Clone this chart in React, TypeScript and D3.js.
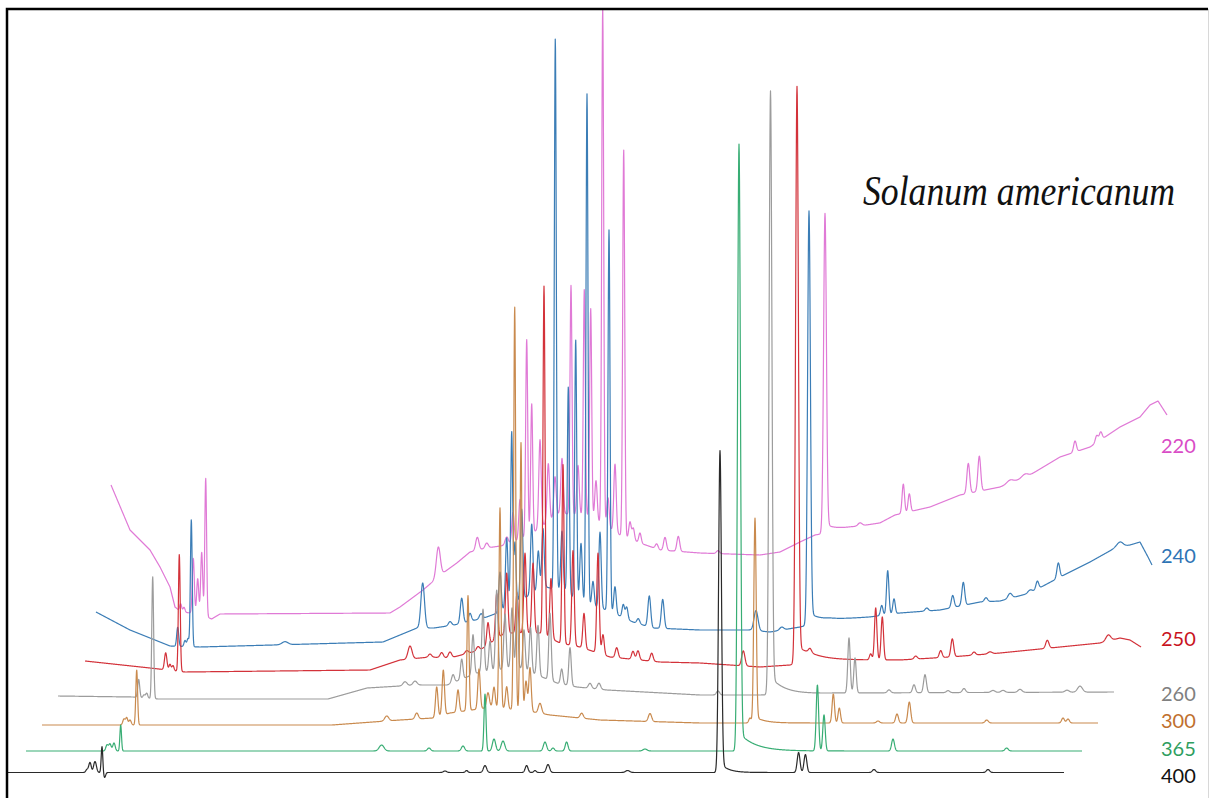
import React, { useMemo } from "react";
import * as d3 from "d3";

// ---------- DATA (retention time in min, intensity in mAU) ----------
const RUN_MIN = 52.8;
const wavelengths = ["220", "240", "250", "260", "300", "365", "400"];
const title = "Solanum americanum";

type P = [number, number, number, number?, number?]; // [t, height, sigma, tailAmp, tailTau]

const baseline220: [number, number][] = [
  [0, 132], [0.95, 87], [1.95, 67], [2.45, 50], [2.95, 30], [3.2, 10], [3.5, 5], [4.5, 3], [5.03, -2], [5.45, 3],
  [13.95, 4], [14.45, 10], [15.6, 27], [16.6, 44], [17.29, 54], [17.95, 65], [18.79, 69], [19.79, 72], [20.95, 82],
  [22.45, 104], [23.95, 100], [25.45, 82], [26.45, 74], [27.45, 67], [29.45, 64], [32.45, 62], [33.45, 65], [34.45, 75],
  [35.2, 82], [36.05, 85], [36.95, 89], [38.45, 94], [39.2, 102], [40.95, 110], [42.45, 122], [44.45, 130], [45.95, 142],
  [47.45, 160], [48.95, 170], [50.45, 190], [51.45, 200], [51.95, 212], [52.35, 216], [52.8, 202],
];
const peaks220: P[] = [
  [3.485, 8, 0.05], [3.65, 5, 0.05], [4.115, 55, 0.05], [4.335, 35, 0.05], [4.535, 62, 0.05], [4.735, 138, 0.045],
  [16.365, 30, 0.1], [18.315, 13, 0.08], [18.785, 5, 0.08], [19.785, 8, 0.08], [20.1, 30, 0.06], [20.45, 40, 0.06],
  [20.785, 197, 0.05], [21.035, 130, 0.05], [21.45, 88, 0.06], [21.865, 58, 0.06], [22.2, 40, 0.06], [22.55, 55, 0.06],
  [23.0, 229, 0.05], [23.35, 50, 0.06], [23.665, 227, 0.05], [23.985, 209, 0.05], [24.25, 40, 0.06], [24.585, 517, 0.05],
  [24.85, 30, 0.06], [25.2, 68, 0.06], [25.635, 387, 0.05], [25.95, 17, 0.06], [26.115, 12, 0.06], [26.45, 10, 0.06],
  [27.285, 5, 0.07], [27.7, 13, 0.07], [28.365, 15, 0.07], [30.35, 3, 0.08],
  [35.7, 320, 0.07, 0.03, 0.6], [37.45, 3, 0.1], [39.615, 29, 0.06], [39.915, 18, 0.06], [42.865, 30, 0.07],
  [43.415, 35, 0.07], [44.95, 3, 0.15], [45.7, 3, 0.15], [48.2, 11, 0.07], [49.285, 7, 0.07], [49.485, 8, 0.07],
];

const baseline240: [number, number][] = [
  [0, 35], [1.7, 17], [2.7, 9], [3.7, 1], [5.2, 0], [14.35, 5], [16.05, 19], [16.9, 19], [17.9, 22], [19.4, 29],
  [20.2, 35], [21, 45], [22.5, 60], [23.5, 55], [24.2, 44], [25.55, 37], [26.85, 25], [27.85, 19], [30.2, 17],
  [32.7, 17], [33.7, 15], [35.2, 20], [36.7, 27], [38.7, 30], [40.2, 34], [42.2, 37], [44.2, 45], [45.2, 46],
  [46.7, 54], [48.2, 70], [49.7, 85], [50.95, 99], [51.7, 102], [52.2, 105], [52.6, 90], [52.85, 80],
];
const peaks240: P[] = [
  [4.085, 19, 0.05], [4.45, 6, 0.05], [4.6, 8, 0.05], [4.765, 127, 0.045], [9.45, 3, 0.15],
  [16.335, 45, 0.09], [17.7, 4, 0.08], [18.285, 25, 0.07], [18.7, 8, 0.07], [19.25, 5, 0.08],
  [20.2, 40, 0.06], [20.535, 70, 0.06], [20.785, 173, 0.05], [20.95, 60, 0.05], [21.285, 90, 0.06], [21.785, 70, 0.06],
  [22.115, 40, 0.06], [22.35, 60, 0.06], [22.965, 551, 0.05], [23.3, 60, 0.06], [23.615, 207, 0.05], [23.985, 260, 0.05],
  [24.25, 60, 0.06], [24.55, 511, 0.05], [24.85, 25, 0.06], [25.2, 76, 0.06], [25.65, 381, 0.05], [25.95, 27, 0.06],
  [26.365, 13, 0.06], [26.535, 12, 0.06], [27.115, 5, 0.07], [27.665, 31, 0.07], [28.335, 29, 0.07],
  [33.0, 20, 0.1], [34.285, 3, 0.1], [35.65, 414, 0.07, 0.03, 0.6], [39.285, 10, 0.06], [39.585, 44, 0.06],
  [39.9, 15, 0.06], [41.535, 3, 0.08], [42.835, 12, 0.07], [43.365, 23, 0.07], [44.5, 4, 0.08], [45.7, 5, 0.1],
  [46.7, 3, 0.1], [47.065, 8, 0.07], [48.115, 15, 0.07], [51.2, 5, 0.15],
];

const baseline250: [number, number][] = [
  [0, 11], [3.25, 4], [5, 0], [14.25, 2], [15.75, 12], [17.25, 15], [18.25, 14], [19.75, 22], [21, 39], [22.75, 39],
  [23.75, 29], [24.75, 25], [26.25, 15], [28.75, 10], [30.75, 9], [33.75, 5], [35.25, 7], [36.25, 12], [38.25, 12],
  [40.75, 12], [43.25, 15], [45.75, 19], [48.25, 24], [50.75, 29], [51.75, 34], [52.25, 32], [52.8, 25],
];
const peaks250: P[] = [
  [4.035, 17, 0.06], [4.25, 6, 0.05], [4.4, 5, 0.05], [4.715, 117, 0.045],
  [16.25, 13, 0.1], [17.25, 3, 0.08], [17.835, 5, 0.08], [18.25, 6, 0.08], [19.085, 3, 0.08], [19.65, 4, 0.08],
  [20.15, 22, 0.06], [20.585, 45, 0.06], [21.085, 60, 0.06], [21.6, 40, 0.06], [22.0, 80, 0.06], [22.4, 70, 0.06],
  [22.95, 349, 0.05], [23.3, 60, 0.06], [23.9, 179, 0.05], [24.4, 95, 0.06], [24.95, 35, 0.06], [25.65, 100, 0.06],
  [25.9, 20, 0.06], [26.585, 10, 0.07], [27.4, 8, 0.07], [27.65, 9, 0.07], [28.335, 8, 0.07], [32.915, 15, 0.08],
  [35.6, 577, 0.07, 0.03, 0.8], [36.25, 4, 0.08], [39.285, 6, 0.06], [39.535, 52, 0.06], [39.865, 43, 0.06],
  [41.535, 3, 0.08], [42.785, 7, 0.07], [43.365, 18, 0.07], [44.45, 3, 0.08], [45.25, 2, 0.1], [48.115, 8, 0.08],
  [51.165, 6, 0.12],
];

const baseline260: [number, number][] = [
  [0, 3], [3.75, 2], [5, 0], [13.5, 0], [15.45, 11], [17.95, 14], [19.45, 14], [20.95, 26], [22.95, 32], [24.95, 16],
  [25.95, 12], [27.45, 9], [32.1, 4], [35.1, 4], [39.1, 6], [52.8, 7],
];
const peaks260: P[] = [
  [4.035, 18, 0.05], [4.3, 3, 0.05], [4.435, 5, 0.05], [4.735, 122, 0.045],
  [17.35, 4, 0.1], [17.85, 4, 0.1], [19.75, 8, 0.07], [20.185, 20, 0.06], [20.75, 40, 0.06], [21.25, 63, 0.06],
  [21.6, 30, 0.06], [21.935, 80, 0.06], [22.35, 55, 0.06], [22.7, 60, 0.06], [22.95, 75, 0.05], [23.3, 40, 0.06],
  [23.625, 45, 0.06], [24.0, 50, 0.06], [24.6, 67, 0.06], [25.185, 15, 0.06], [25.6, 38, 0.06], [26.6, 5, 0.08],
  [27.05, 6, 0.08], [33.0, 4, 0.08], [35.625, 604, 0.07, 0.03, 0.7], [39.55, 55, 0.06], [39.85, 35, 0.06],
  [41.55, 3, 0.08], [42.8, 8, 0.07], [43.35, 18, 0.07], [44.5, 2, 0.08], [45.3, 4, 0.08], [46.75, 2, 0.1],
  [47.25, 2, 0.1], [48.1, 3, 0.1], [50.45, 2, 0.1], [51.1, 6, 0.12],
];

const baseline300: [number, number][] = [
  [0, 0], [14.5, 0], [17.9, 5], [19.55, 7], [20.4, 12], [22.55, 18], [24.55, 13], [25.4, 10], [27.9, 5], [32.9, 2], [52.8, 2],
];
const peaks300: P[] = [
  [4.1, 6, 0.06], [4.235, 7, 0.05], [4.4, 5, 0.06], [4.735, 55, 0.045],
  [17.235, 5, 0.1], [18.735, 6, 0.08], [19.735, 30, 0.06], [20.065, 45, 0.06], [20.8, 22, 0.06], [21.3, 115, 0.05],
  [21.85, 40, 0.06], [22.3, 15, 0.07], [22.6, 20, 0.06], [22.9, 200, 0.05], [23.235, 22, 0.06], [23.635, 403, 0.05],
  [23.95, 268, 0.05], [24.2, 30, 0.06], [24.4, 44, 0.06], [24.9, 10, 0.08], [26.985, 5, 0.08], [30.4, 8, 0.08],
  [35.4, 5, 0.06], [35.65, 205, 0.06, 0.03, 0.5], [39.565, 29, 0.06], [39.865, 15, 0.06], [41.8, 2, 0.08],
  [42.75, 9, 0.07], [43.365, 21, 0.07], [47.235, 3, 0.08], [51.05, 5, 0.07], [51.3, 4, 0.07],
];

const baseline365: [number, number][] = [[0, 0], [52.8, 0]];
const peaks365: P[] = [
  [4.05, 6, 0.06], [4.2, 7, 0.06], [4.4, 8, 0.06], [4.735, 26, 0.04], [17.78, 6, 0.12], [20.15, 3, 0.08],
  [21.85, 5, 0.08], [22.95, 57, 0.05], [23.4, 12, 0.08], [23.85, 10, 0.09], [25.95, 9, 0.08], [26.35, 3, 0.07],
  [27.03, 9, 0.07], [30.95, 2, 0.1], [35.65, 607, 0.07, 0.03, 0.8], [39.57, 66, 0.06], [39.9, 36, 0.06],
  [43.35, 12, 0.07], [49.03, 3, 0.08],
];

const baseline400: [number, number][] = [[0, 0], [52.8, 0]];
const peaks400: P[] = [
  [3.95, 3, 0.06], [4.1, 10, 0.06], [4.35, 11, 0.07], [4.7, 26, 0.04], [4.83, -5, 0.05], [21.85, 1.5, 0.08],
  [22.93, 2, 0.06], [23.85, 7, 0.08], [25.93, 7, 0.07], [26.35, 2, 0.06], [27.0, 8, 0.08], [30.98, 2, 0.1],
  [35.6, 322, 0.07, 0.03, 0.4], [39.53, 20, 0.07], [39.87, 18, 0.07], [43.3, 3, 0.08], [49.0, 3, 0.08],
];

const baselines = [baseline220, baseline240, baseline250, baseline260, baseline300, baseline365, baseline400];
const peakLists = [peaks220, peaks240, peaks250, peaks260, peaks300, peaks365, peaks400];

// ---------- LAYOUT / STYLE ----------
const W = 1209;
const H = 798;
const TRACE_W = 1056;
const traceOrigin: Record<string, { x: number; y: number }> = {
  "220": { x: 111, y: 617 },
  "240": { x: 96, y: 647 },
  "250": { x: 85, y: 672 },
  "260": { x: 58, y: 699 },
  "300": { x: 42, y: 725 },
  "365": { x: 26, y: 751 },
  "400": { x: 8, y: 772.5 },
};
const lineColor: Record<string, string> = {
  "220": "#e07ad6", "240": "#3b7db6", "250": "#d3323a", "260": "#9c9c9c",
  "300": "#c98a4e", "365": "#38ad74", "400": "#2a2a2a",
};
const labelColor: Record<string, string> = {
  "220": "#d94cc6", "240": "#2e74b5", "250": "#c9141e", "260": "#808080",
  "300": "#c0702e", "365": "#2f9e60", "400": "#111111",
};
const labelY: Record<string, number> = {
  "220": 453, "240": 563, "250": 646, "260": 701, "300": 728, "365": 756, "400": 783,
};

function peakValue(t: number, p: P) {
  const [tc, h, s, a = 0, tau = 1] = p;
  const dt = t - tc;
  if (Math.abs(dt) > 8 * s && (dt < 0 || a === 0)) return 0;
  const g = Math.exp(-(dt * dt) / (2 * s * s));
  if (dt <= 0 || a === 0) return h * g;
  return h * ((1 - a) * g + a * Math.exp(-dt / tau));
}

export default function App() {
  const x = d3.scaleLinear().domain([0, RUN_MIN]).range([0, TRACE_W]);
  const y = d3.scaleLinear().domain([0, 800]).range([0, 800]);

  const paths = useMemo(() => {
    const step = RUN_MIN / (TRACE_W * 4);
    return wavelengths.map((wl, i) => {
      const bl = baselines[i];
      const base = d3.scaleLinear().domain(bl.map((d) => d[0])).range(bl.map((d) => d[1])).clamp(true);
      const pk = peakLists[i];
      const o = traceOrigin[wl];
      const pts: [number, number][] = [];
      for (let t = 0; t <= RUN_MIN + 1e-9; t += step) {
        let v = base(t);
        for (const p of pk) v += peakValue(t, p);
        pts.push([o.x + x(t), o.y - y(v)]);
      }
      return d3.line()(pts) as string;
    });
  }, []);

  return (
    <div style={{ position: "absolute", left: 0, top: 0 }}>
      <svg width={W} height={H} style={{ display: "block", background: "#fff" }}>
        <defs>
          <clipPath id="frame">
            <rect x={8} y={10} width={1200} height={790} />
          </clipPath>
        </defs>
        <g clipPath="url(#frame)">
          {paths.map((d, i) => (
            <path key={wavelengths[i]} d={d} fill="none" stroke={lineColor[wavelengths[i]]}
              strokeWidth={1.2} strokeLinejoin="round" />
          ))}
        </g>
        {wavelengths.map((wl) => (
          <text key={wl} x={1161} y={labelY[wl]} fill={labelColor[wl]}
            style={{ fontFamily: "Lato, 'Open Sans', sans-serif", fontSize: 20 }}>
            {wl}
          </text>
        ))}
        <text transform="translate(863,205) scale(0.83,1)"
          style={{ fontFamily: "'Liberation Serif', 'Times New Roman', serif", fontStyle: "italic", fontSize: 43 }}
          fill="#111">
          {title}
        </text>
        <line x1={1208.5} y1={9} x2={1208.5} y2={H} stroke="#d8d8d8" strokeWidth={1} />
        <path d={`M7,${H + 2} L7,9 L1208,9`} fill="none" stroke="#000" strokeWidth={2.5} />
      </svg>
    </div>
  );
}
